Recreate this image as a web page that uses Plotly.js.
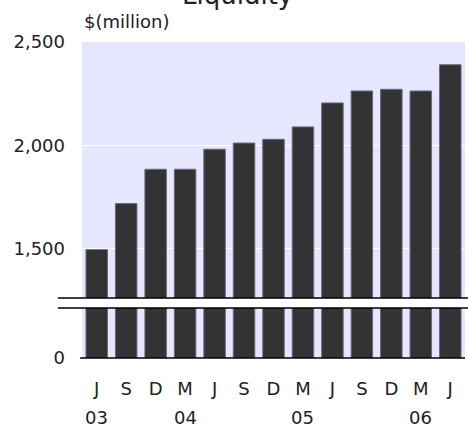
<!DOCTYPE html>
<html>
<head>
<meta charset="utf-8">
<script src="https://cdn.plot.ly/plotly-3.0.1.min.js"></script>
<style>html,body{margin:0;padding:0;background:#fff;}#chart{width:468px;height:429px;}</style>
</head>
<body>
<div id="chart"></div>
<script>
// Data
const periods = ["Jun-03","Sep-03","Dec-03","Mar-04","Jun-04","Sep-04","Dec-04","Mar-05","Jun-05","Sep-05","Dec-05","Mar-06","Jun-06"];
const monthLabels = ["J","S","D","M","J","S","D","M","J","S","D","M","J"];
const liquidity = [1495, 1718, 1884, 1884, 1981, 2011, 2029, 2089, 2205, 2263, 2271, 2263, 2390];
const yearLabels = ["03","04","05","06"];
const yearPeriods = ["Jun-03","Mar-04","Mar-05","Mar-06"];
const upperTicks = [1500, 2000, 2500];

const font = "DejaVu Sans, Verdana, sans-serif";
const barStyle = {color: "#333333", line: {color: "#6a6a80", width: 1}};

const lower = {x: periods, y: liquidity, type: "bar", xaxis: "x", yaxis: "y", marker: barStyle, hoverinfo: "skip"};
const upper = {x: periods, y: liquidity, type: "bar", xaxis: "x", yaxis: "y2", marker: barStyle, hoverinfo: "skip"};

const H = 316; // plot height in px
const lowTop = 50 / H;
const upBottom = 60 / H;

const annotations = yearPeriods.map((p, i) => ({
  x: p, xref: "x", y: -0.187, yref: "paper", text: yearLabels[i], showarrow: false,
  xanchor: "center", yanchor: "middle", font: {family: font, size: 18, color: "#222"}
}));
annotations.push({x: 0, xref: "paper", y: 1.066, yref: "paper", text: "$(million)", showarrow: false,
  xanchor: "left", yanchor: "middle", font: {family: font, size: 18, color: "#222"}});
annotations.push({x: 0.405, xref: "paper", y: 1.095, yref: "paper", text: "Liquidity", showarrow: false,
  xanchor: "center", yanchor: "bottom", font: {family: font, size: 26, color: "#222"}});

const layout = {
  width: 468, height: 429,
  margin: {l: 82, r: 3, t: 42, b: 71, pad: 0},
  paper_bgcolor: "#ffffff",
  plot_bgcolor: "#e6e6ff",
  showlegend: false,
  bargap: 0.27,
  font: {family: font, size: 18, color: "#222"},
  xaxis: {
    type: "category", anchor: "y", domain: [0, 1],
    tickvals: periods, ticktext: monthLabels,
    showgrid: false, zeroline: false, showline: false, ticks: "",
    ticklabelstandoff: 18,
    tickfont: {family: font, size: 18, color: "#222"}
  },
  yaxis: {
    domain: [0, lowTop], range: [0, 100], anchor: "x",
    tickvals: [0], ticktext: ["0"], showgrid: false, zeroline: false,
    ticks: "", ticklabelstandoff: 16,
    tickfont: {family: font, size: 18, color: "#222"}
  },
  yaxis2: {
    domain: [upBottom, 1], range: [1261, 2500], anchor: "x",
    tickvals: upperTicks, tickformat: ",", showgrid: true, gridcolor: "#ffffff", gridwidth: 1.5,
    zeroline: false, ticks: "", ticklabelstandoff: 16,
    tickfont: {family: font, size: 18, color: "#222"}
  },
  shapes: [
    {type: "line", xref: "paper", yref: "paper", x0: -0.005, x1: 1, y0: 0, y1: 0, line: {color: "#000", width: 1.5}},
    {type: "line", xref: "paper", yref: "paper", x0: -0.063, x1: 1.01, y0: upBottom, y1: upBottom, line: {color: "#000", width: 1.5}},
    {type: "line", xref: "paper", yref: "paper", x0: -0.063, x1: 1.01, y0: lowTop, y1: lowTop, line: {color: "#000", width: 1.5}}
  ],
  annotations: annotations
};

Plotly.newPlot("chart", [lower, upper], layout, {staticPlot: true, displayModeBar: false});
</script>
</body>
</html>
